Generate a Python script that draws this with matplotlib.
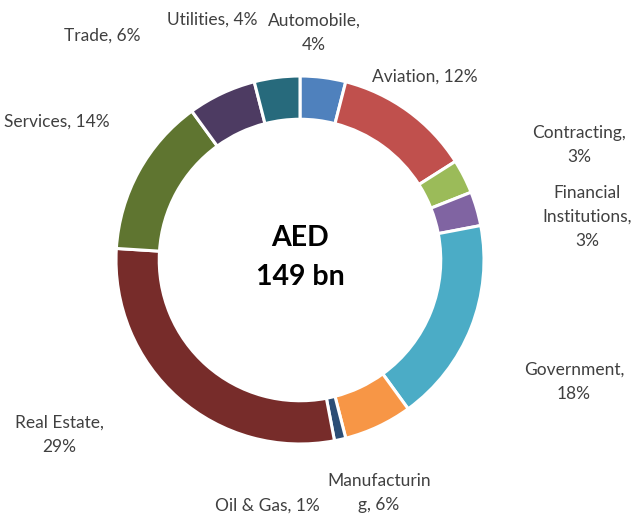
import matplotlib
matplotlib.use('Agg')
import matplotlib.pyplot as plt

plt.rcParams['font.family'] = ['Lato', 'DejaVu Sans']

# data
sectors = ['Automobile', 'Aviation', 'Contracting', 'Financial Institutions', 'Government',
           'Manufacturing', 'Oil & Gas', 'Real Estate', 'Services', 'Trade', 'Utilities']
shares = [4, 12, 3, 3, 18, 6, 1, 29, 14, 6, 4]
label_text = ['Automobile,\n4%', 'Aviation, 12%', 'Contracting,\n3%', 'Financial\nInstitutions,\n3%',
              'Government,\n18%', 'Manufacturin\ng, 6%', 'Oil & Gas, 1%', 'Real Estate,\n29%',
              'Services, 14%', 'Trade, 6%', 'Utilities, 4%']
colors = ['#4F81BD', '#C0504D', '#9BBB59', '#8064A2', '#4BACC6', '#F79646',
          '#2C4D75', '#772C2A', '#5F7530', '#4D3B62', '#276A7C']

# label positions in pixels (x, y from top)
label_pos = [(314, 33), (425, 77), (579, 145), (587, 217), (574, 382), (379, 493),
             (267, 506), (59, 435), (57, 122), (102, 36), (212, 20)]

W, H = 633, 515
fig = plt.figure(figsize=(W / 100, H / 100), dpi=100)
ax = fig.add_axes([0, 0, 1, 1])

cx, cy, R = 300, H - 260, 184
ax.pie(shares, colors=colors, startangle=90, counterclock=False, center=(cx, cy), radius=R,
       wedgeprops=dict(width=R * 0.235, edgecolor='white', linewidth=2.2))

for t, (px, py) in zip(label_text, label_pos):
    ax.text(px, H - py, t, ha='center', va='center', fontsize=12.5, color='#404040',
            linespacing=1.62)

ax.text(cx, H - 238, 'AED', ha='center', va='center', fontsize=20.5, fontweight='bold', color='black')
ax.text(cx, H - 277, '149 bn', ha='center', va='center', fontsize=20.5, fontweight='bold', color='black')

ax.set_xlim(0, W)
ax.set_ylim(0, H)
ax.set_aspect('equal')
ax.axis('off')

plt.savefig('out.png', dpi=100)
